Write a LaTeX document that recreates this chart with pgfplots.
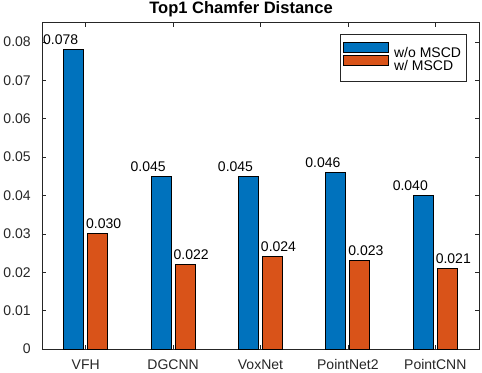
\documentclass[border=0pt]{standalone}
\usepackage{fontspec}
\setmainfont{Liberation Sans}
\usepackage{pgfplots}
\pgfplotsset{compat=1.18}
\definecolor{mblue}{rgb}{0,0.447,0.741}
\definecolor{mred}{rgb}{0.85,0.325,0.098}
\definecolor{axgray}{rgb}{0.15,0.15,0.15}
\begin{document}
\begin{tikzpicture}
\begin{axis}[
  at={(0,0)}, anchor=south west,
  scale only axis, width=327.75pt, height=244.7pt,
  xmin=0.5, xmax=5.5, ymin=0, ymax=0.085,
  clip=false,
  ybar=3pt, bar width=15pt,
  xtick={1,2,3,4,5},
  xticklabels={VFH,DGCNN,VoxNet,PointNet2,PointCNN},
  ytick={0,0.01,0.02,0.03,0.04,0.05,0.06,0.07,0.08},
  scaled y ticks=false,
  yticklabel style={/pgf/number format/fixed, /pgf/number format/precision=2, inner sep=0pt, xshift=-8.25pt},
  xticklabel style={anchor=base, inner sep=0pt, yshift=-15.2pt},
  /pgf/number format/assume math mode=true,
  ticklabel style={font=\fontsize{10.5}{12}\selectfont, text=axgray},
  axis line style={axgray, line width=0.5pt},
  tick style={axgray, line width=0.5pt},
  major tick length=3pt,
  tick align=inside,
  legend cell align=left,
  legend style={at={(1,1)}, anchor=north east, xshift=-9.5pt, yshift=-8.5pt,
    draw=axgray, line width=0.5pt, font=\fontsize{10.5}{12}\selectfont,
    inner xsep=2.25pt, inner ysep=5.8pt, row sep=-4.2pt,
    nodes={inner xsep=1.5pt, inner ysep=0.6pt, text height=7.6pt, text depth=2pt}},
]
\addplot[fill=mblue, draw=black, line width=0.6pt,
  legend image code/.code={\draw[fill=mblue, draw=black, line width=0.6pt] (0pt,0.75pt) rectangle (33.75pt,8.25pt);},
  nodes near coords={\pgfmathprintnumber[fixed,fixed zerofill,precision=3]{\pgfplotspointmeta}},
  every node near coord/.append style={anchor=base, xshift=-9.75pt, yshift=3.75pt, inner sep=0pt, font=\fontsize{10.5}{12}\selectfont, text=black}]
  coordinates {(1,0.078) (2,0.045) (3,0.045) (4,0.046) (5,0.040)};
\addlegendentry{\hspace{2.5pt}w/o MSCD\hspace{6pt}}
\addplot[fill=mred, draw=black, line width=0.6pt,
  legend image code/.code={\draw[fill=mred, draw=black, line width=0.6pt] (0pt,0.75pt) rectangle (33.75pt,8.25pt);},
  nodes near coords={\pgfmathprintnumber[fixed,fixed zerofill,precision=3]{\pgfplotspointmeta}},
  every node near coord/.append style={anchor=base, xshift=4.5pt, yshift=3.75pt, inner sep=0pt, font=\fontsize{10.5}{12}\selectfont, text=black}]
  coordinates {(1,0.030) (2,0.022) (3,0.024) (4,0.023) (5,0.021)};
\addlegendentry{\hspace{2.5pt}w/ MSCD}
\end{axis}
\node[anchor=base, inner sep=0pt, font=\bfseries\fontsize{12.4}{14}\selectfont] at (149.25pt,251.25pt) {Top1 Chamfer Distance};
\pgfresetboundingbox
\useasboundingbox (-31.5pt,-17.25pt) rectangle (330pt,261.75pt);
\end{tikzpicture}
\end{document}
